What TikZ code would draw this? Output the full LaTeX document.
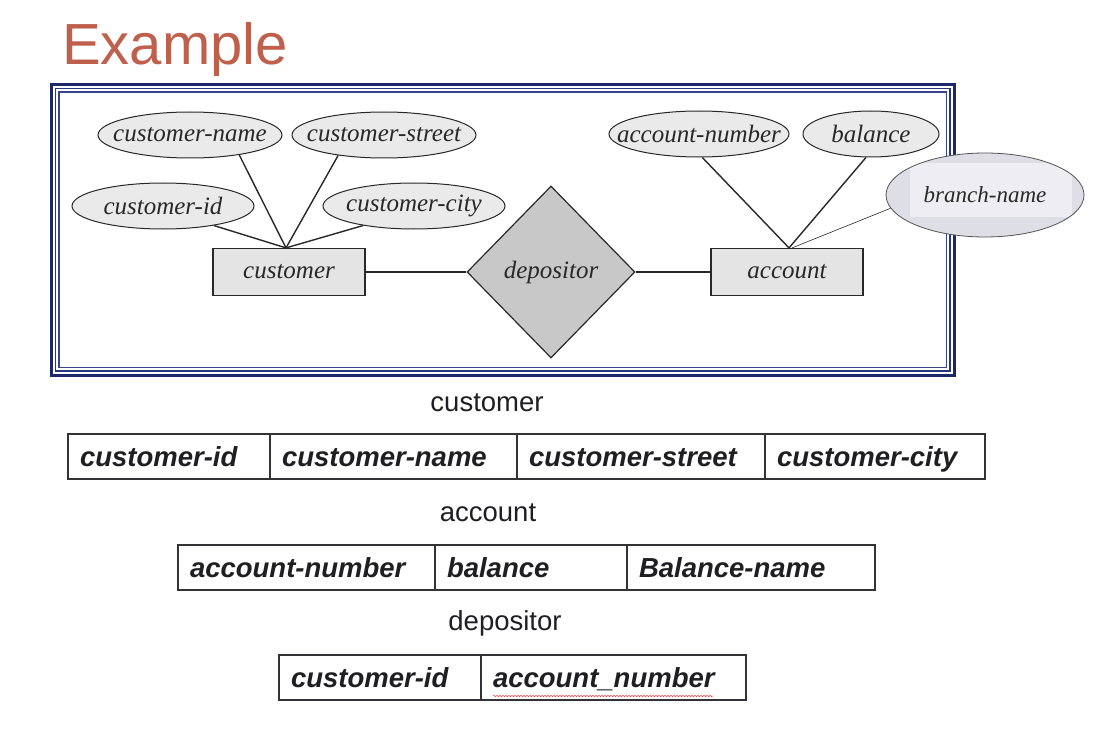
\documentclass[tikz,border=0pt]{standalone}
\usepackage{fontspec}
\newfontfamily\arial{Liberation Sans}
\newfontfamily\erserif{Liberation Serif}
\usetikzlibrary{shapes.geometric,calc,decorations.pathmorphing}

\definecolor{titlec}{RGB}{190,96,76}
\definecolor{navyA}{RGB}{28,40,105}
\definecolor{navyB}{RGB}{40,55,125}
\definecolor{navyC}{RGB}{55,70,140}
\definecolor{erline}{RGB}{40,40,40}
\definecolor{attfill}{RGB}{234,234,234}
\definecolor{entfill}{RGB}{228,228,228}
\definecolor{relfill}{RGB}{200,200,200}
\definecolor{bnfill}{RGB}{222,222,230}
\definecolor{bninner}{RGB}{238,238,242}
\definecolor{tabline}{RGB}{50,50,55}
\definecolor{tabtext}{RGB}{30,30,35}

% zero-width label so that the ellipse size is set by its minimum dimensions
\newcommand\zw[1]{\makebox[0pt]{#1}}

\tikzset{
  erfont/.style={font=\erserif\fontsize{25}{25}\selectfont\itshape, text=erline},
  attr/.style={ellipse, draw=erline, line width=1, fill=attfill, inner sep=0, erfont},
  entity/.style={rectangle, draw=erline, line width=1.2, fill=entfill,
                 minimum width=152, minimum height=47, inner sep=0, erfont},
  relation/.style={diamond, draw=erline, line width=1.2, fill=relfill,
                   minimum width=168, minimum height=172, inner sep=0, erfont},
  link/.style={draw=erline, line width=1.4},
  thinlink/.style={draw=erline, line width=0.6},
  cell/.style={draw=tabline, line width=1.3, outer sep=0, minimum height=45,
               inner xsep=12, inner ysep=0, anchor=north west, align=left,
               text height=22, text depth=3, text=tabtext,
               font=\arial\bfseries\itshape\fontsize{27.5}{27.5}\selectfont},
  caption/.style={font=\arial\fontsize{27.5}{27.5}\selectfont, text=tabtext, inner sep=0}
}

\begin{document}
\begin{tikzpicture}[x=1pt,y=-1pt]
\useasboundingbox (0,0) rectangle (1094,730);
\fill[white] (0,0) rectangle (1094,730);

% heading
\node[anchor=base west, inner sep=0, text=titlec,
      font=\arial\fontsize{58}{58}\selectfont] (title) at (62,65) {Example};

% triple frame around the E-R diagram
\draw[navyA, line width=3]   (51.5,84.5) rectangle (954,375);
\draw[navyB, line width=1.8] (55.5,88.5) rectangle (950,371);
\draw[navyC, line width=1.2] (59,92)     rectangle (946.5,367.5);

% entities and relationship
\node[entity]   (customer)  at (289,272) {customer};
\node[relation] (depositor) at (551,272) {depositor};
\node[entity]   (account)   at (787,272) {account};

% customer attributes
\node[attr, minimum width=184, minimum height=46] (cname)   at (190,135) {\zw{customer-name}};
\node[attr, minimum width=184, minimum height=46] (cstreet) at (384,135) {\zw{customer-street}};
\node[attr, minimum width=182, minimum height=46] (cid)     at (163,206) {\zw{customer-id}};
\node[attr, minimum width=182, minimum height=46] (ccity)   at (414,206) {\zw{customer-city}};

% account attributes
\node[attr, minimum width=180, minimum height=46] (anum) at (699,134) {\zw{account-number}};
\node[attr, minimum width=136, minimum height=46] (bal)  at (871,134) {\zw{balance}};
\node[ellipse, draw=erline!80, line width=0.8, fill=bnfill, inner sep=0,
      minimum width=198, minimum height=84,
      font=\erserif\fontsize{23}{23}\selectfont\itshape, text=erline,
      path picture={\fill[bninner]
        ($(path picture bounding box.center)+(-75pt,32pt)$) rectangle
        ($(path picture bounding box.center)+(87pt,-22pt)$);}]
      (bname) at (985,195) {\zw{branch-name}};

% connectors
\draw[link] (cname.-22)  -- ([xshift=-3pt]customer.north);
\draw[link] (cstreet.204) -- ([xshift=-3pt]customer.north);
\draw[link] (cid.-21)    -- ([xshift=-3pt]customer.north);
\draw[link] (ccity.201)  -- ([xshift=-3pt]customer.north);
\draw[link] (customer.east) -- (depositor.west);
\draw[link] (depositor.east) -- (account.west);
\draw[link] (anum.-82) -- ([xshift=2pt]account.north);
\draw[link] (bal.-102) -- ([xshift=2pt]account.north);
\draw[thinlink] (bname.188) -- ([xshift=5pt]account.north);

% relational schemas
\node[caption] (capcust) at (487,403) {customer};
\node[cell, text width=178] (t1a) at (68,434) {customer-id};
\node[cell, text width=223] (t1b) at (t1a.north east) {customer-name};
\node[cell, text width=224] (t1c) at (t1b.north east) {customer-street};
\node[cell, text width=196] (t1d) at (t1c.north east) {customer-city};

\node[caption] (capacc) at (488,513) {account};
\node[cell, text width=233] (t2a) at (178,545) {account-number};
\node[cell, text width=168] (t2b) at (t2a.north east) {balance};
\node[cell, text width=224] (t2c) at (t2b.north east) {Balance-name};

\node[caption] (capdep) at (505,623) {depositor};
\node[cell, text width=178] (t3a) at (279,655) {customer-id};
\node[cell, text width=241] (t3b) at (t3a.north east) {account\_number};
\draw[red!75, line width=0.5, decorate,
      decoration={snake, amplitude=0.7pt, segment length=3pt}]
  ([xshift=12pt,yshift=4pt]t3b.south west) -- ([xshift=232pt,yshift=4pt]t3b.south west);
\end{tikzpicture}
\end{document}
